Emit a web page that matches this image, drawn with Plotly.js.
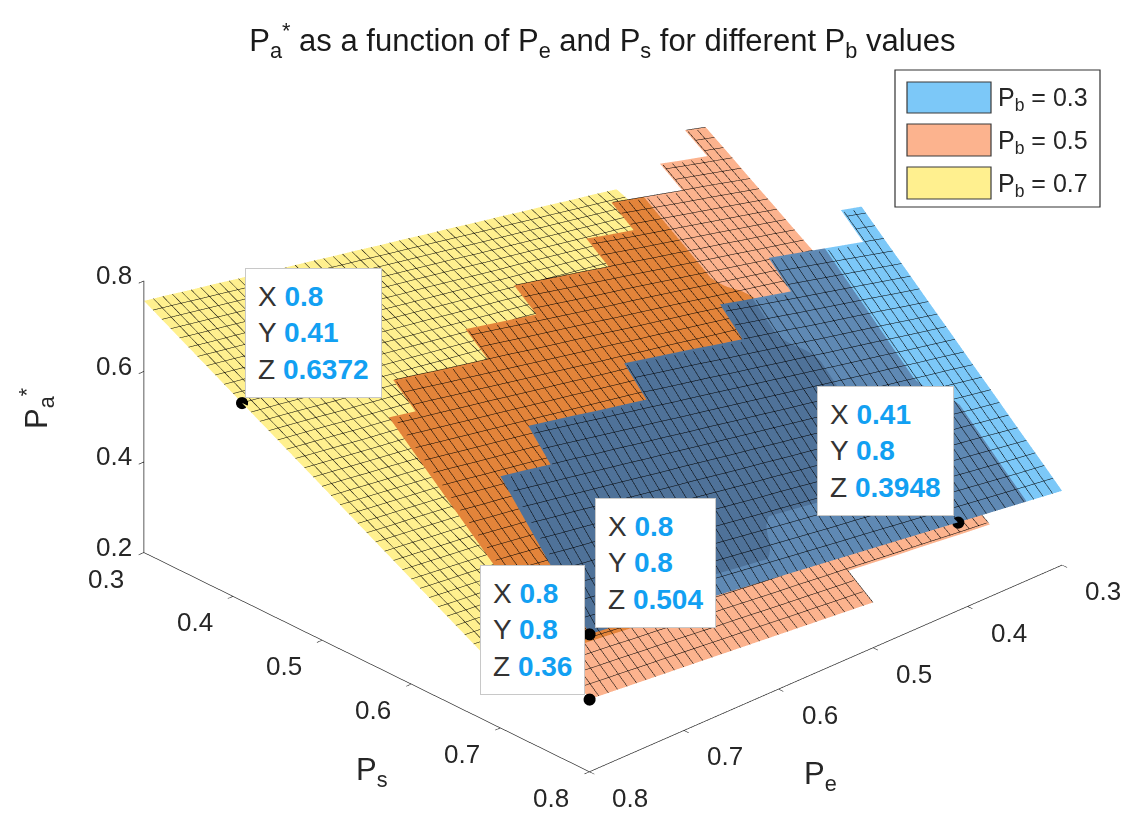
<!DOCTYPE html>
<html>
<head>
<meta charset="utf-8">
<script src="https://cdn.plot.ly/plotly-3.0.1.min.js"></script>
<style>html,body{margin:0;padding:0;background:#fff;}#chart{width:1141px;height:829px;}</style>
</head>
<body>
<div id="chart"></div>
<script>
// ---------- data ----------
const _ = null;
const Pe = [0.3,0.325,0.35,0.375,0.4,0.425,0.45,0.475,0.5,0.525,0.55,0.575,0.6,0.625,0.65,0.675,0.7,0.725,0.75,0.775,0.8];
const Ps = [0.3,0.325,0.35,0.375,0.4,0.425,0.45,0.475,0.5,0.525,0.55,0.575,0.6,0.625,0.65,0.675,0.7,0.725,0.75,0.775,0.8];
const pbValues = [0.3, 0.5, 0.7];
const NULLROW = [_,_,_,_,_,_,_,_,_,_,_,_,_,_,_,_,_,_,_,_,_];

// Pa* for Pb = 0.7 (rows: Ps, columns: Pe)
const zPb07 = [
[0.546,0.557,0.567,0.578,0.588,0.599,0.609,0.620,0.630,0.641,0.651,0.662,0.672,0.683,0.693,0.704,0.714,0.725,0.735,0.746,0.756],
[0.527,0.537,0.547,0.557,0.567,0.577,0.587,0.597,0.608,0.618,0.628,0.638,0.648,0.658,0.668,0.678,0.689,0.699,0.709,0.719,0.729],
[0.507,0.517,0.526,0.536,0.546,0.556,0.566,0.575,0.585,0.595,0.605,0.614,0.624,0.634,0.644,0.653,0.663,0.673,0.683,0.692,0.702],
[0.488,0.497,0.506,0.516,0.525,0.534,0.544,0.553,0.563,0.572,0.581,0.591,0.600,0.609,0.619,0.628,0.638,0.647,0.656,0.666,0.675],
[0.468,0.477,0.486,0.495,0.504,0.513,0.522,0.531,0.540,0.549,0.558,0.567,0.576,0.585,0.594,0.603,0.612,0.621,0.630,0.639,0.648],
[0.449,0.457,0.466,0.474,0.483,0.492,0.500,0.509,0.518,0.526,0.535,0.544,0.552,0.561,0.569,0.578,0.587,0.595,0.604,0.613,0.621],
[0.429,0.437,0.446,0.454,0.462,0.470,0.479,0.487,0.495,0.503,0.512,0.520,0.528,0.536,0.545,0.553,0.561,0.569,0.578,0.586,0.594],
[0.410,0.417,0.425,0.433,0.441,0.449,0.457,0.465,0.473,0.480,0.488,0.496,0.504,0.512,0.520,0.528,0.536,0.543,0.551,0.559,0.567],
[0.390,0.398,0.405,0.413,0.420,0.428,0.435,0.443,0.450,0.458,0.465,0.473,0.480,0.488,0.495,0.503,0.510,0.518,0.525,0.533,0.540],
[0.371,0.378,0.385,0.392,0.399,0.406,0.413,0.421,0.428,0.435,0.442,0.449,0.456,0.463,0.470,0.477,0.485,0.492,0.499,0.506,0.513],
[0.351,0.358,0.365,0.371,0.378,0.385,0.392,0.398,0.405,0.412,0.419,0.425,0.432,0.439,0.446,0.452,0.459,0.466,0.473,0.479,0.486],
[0.332,0.338,0.344,0.351,0.357,0.363,0.370,0.376,0.383,0.389,0.395,0.402,0.408,0.414,0.421,0.427,0.434,0.440,0.446,0.453,0.459],
[0.312,0.318,0.324,0.330,0.336,0.342,0.348,0.354,0.360,0.366,0.372,0.378,0.384,0.390,0.396,0.402,0.408,0.414,0.420,0.426,0.432],
[_,_,0.304,0.309,0.315,0.321,0.326,0.332,0.338,0.343,0.349,0.354,0.360,0.366,0.371,0.377,0.383,0.388,0.394,0.399,0.405],
[_,_,_,_,_,_,0.305,0.310,0.315,0.320,0.326,0.331,0.336,0.341,0.347,0.352,0.357,0.362,0.368,0.373,0.378],
[_,_,_,_,_,_,_,_,_,_,0.302,0.307,0.312,0.317,0.322,0.327,0.332,0.336,0.341,0.346,0.351],
[_,_,_,_,_,_,_,_,_,_,_,_,_,_,_,0.302,0.306,0.311,0.315,0.320,0.324],
NULLROW, NULLROW, NULLROW, NULLROW
];

// Pa* for Pb = 0.5
const zPb05 = [
NULLROW, NULLROW, NULLROW, NULLROW,
[0.780,0.795,_,_,_,_,_,_,_,_,_,_,_,_,_,_,_,_,_,_,_],
[0.748,0.762,0.776,0.791,_,_,_,_,_,_,_,_,_,_,_,_,_,_,_,_,_],
[0.715,0.729,0.743,0.756,0.770,0.784,0.798,_,_,_,_,_,_,_,_,_,_,_,_,_,_],
[0.683,0.696,0.709,0.722,0.735,0.748,0.761,0.774,0.788,_,_,_,_,_,_,_,_,_,_,_,_],
[0.650,0.663,0.675,0.688,0.700,0.713,0.725,0.738,0.750,0.763,0.775,0.788,0.800,_,_,_,_,_,_,_,_],
[0.618,0.629,0.641,0.653,0.665,0.677,0.689,0.701,0.713,0.724,0.736,0.748,0.760,0.772,0.784,0.796,_,_,_,_,_],
[0.585,0.596,0.608,0.619,0.630,0.641,0.653,0.664,0.675,0.686,0.698,0.709,0.720,0.731,0.743,0.754,0.765,0.776,0.788,0.799,_],
[0.553,0.563,0.574,0.584,0.595,0.606,0.616,0.627,0.638,0.648,0.659,0.669,0.680,0.691,0.701,0.712,0.723,0.733,0.744,0.754,0.765],
[0.520,0.530,0.540,0.550,0.560,0.570,0.580,0.590,0.600,0.610,0.620,0.630,0.640,0.650,0.660,0.670,0.680,0.690,0.700,0.710,0.720],
[0.488,0.497,0.506,0.516,0.525,0.534,0.544,0.553,0.563,0.572,0.581,0.591,0.600,0.609,0.619,0.628,0.638,0.647,0.656,0.666,0.675],
[0.455,0.464,0.473,0.481,0.490,0.499,0.508,0.516,0.525,0.534,0.543,0.551,0.560,0.569,0.578,0.586,0.595,0.604,0.613,0.621,0.630],
[0.423,0.431,0.439,0.447,0.455,0.463,0.471,0.479,0.488,0.496,0.504,0.512,0.520,0.528,0.536,0.544,0.553,0.561,0.569,0.577,0.585],
[0.390,0.398,0.405,0.413,0.420,0.428,0.435,0.443,0.450,0.458,0.465,0.473,0.480,0.488,0.495,0.503,0.510,0.518,0.525,0.533,0.540],
[0.358,0.364,0.371,0.378,0.385,0.392,0.399,0.406,0.413,0.419,0.426,0.433,0.440,0.447,0.454,0.461,0.468,0.474,0.481,0.488,0.495],
[0.325,0.331,0.338,0.344,0.350,0.356,0.363,0.369,0.375,0.381,0.388,0.394,0.400,0.406,0.413,0.419,0.425,0.431,0.438,0.444,0.450],
[_,_,0.304,0.309,0.315,0.321,0.326,0.332,0.338,0.343,0.349,0.354,0.360,0.366,0.371,0.377,0.383,0.388,0.394,0.399,0.405],
[_,_,_,_,_,_,_,_,0.300,0.305,0.310,0.315,0.320,0.325,0.330,0.335,0.340,0.345,0.350,0.355,0.360]
];

// Pa* for Pb = 0.3
const zPb03 = [
NULLROW, NULLROW, NULLROW, NULLROW, NULLROW, NULLROW, NULLROW, NULLROW, NULLROW, NULLROW, NULLROW,
[0.774,0.788,_,_,_,_,_,_,_,_,_,_,_,_,_,_,_,_,_,_,_],
[0.728,0.742,0.756,0.770,0.784,0.798,_,_,_,_,_,_,_,_,_,_,_,_,_,_,_],
[0.683,0.696,0.709,0.722,0.735,0.748,0.761,0.774,0.788,_,_,_,_,_,_,_,_,_,_,_,_],
[0.637,0.649,0.662,0.674,0.686,0.698,0.711,0.723,0.735,0.747,0.760,0.772,0.784,0.796,_,_,_,_,_,_,_],
[0.592,0.603,0.614,0.626,0.637,0.648,0.660,0.671,0.683,0.694,0.706,0.717,0.728,0.740,0.751,0.762,0.774,0.785,0.796,_,_],
[0.546,0.557,0.567,0.578,0.588,0.599,0.609,0.620,0.630,0.641,0.651,0.662,0.672,0.683,0.693,0.704,0.714,0.725,0.735,0.746,0.756],
[0.501,0.510,0.520,0.529,0.539,0.549,0.558,0.568,0.578,0.587,0.597,0.606,0.616,0.626,0.635,0.645,0.655,0.664,0.674,0.683,0.693],
[0.455,0.464,0.473,0.481,0.490,0.499,0.508,0.516,0.525,0.534,0.543,0.551,0.560,0.569,0.578,0.586,0.595,0.604,0.613,0.621,0.630],
[0.410,0.417,0.425,0.433,0.441,0.449,0.457,0.465,0.473,0.480,0.488,0.496,0.504,0.512,0.520,0.528,0.536,0.543,0.551,0.559,0.567],
[0.364,0.371,0.378,0.385,0.392,0.399,0.406,0.413,0.420,0.427,0.434,0.441,0.448,0.455,0.462,0.469,0.476,0.483,0.490,0.497,0.504]
];

// data tips
const tipX = [0.8, 0.41, 0.8, 0.8];
const tipY = [0.41, 0.8, 0.8, 0.8];
const tipZ = [0.6372, 0.3948, 0.504, 0.36];

const peTicks = [0.3,0.4,0.5,0.6,0.7,0.8];
const psTicks = [0.3,0.4,0.5,0.6,0.7,0.8];
const zTicks = [0.2,0.4,0.6,0.8];

// ---------- style ----------
const shadeO = [
"000000000000000000000","000000000000000000000","000000000000000000000","000000000000000000000",
"000000000000000000000","000000000000000000000",
"000001111111111111111","000001111111111111111","000001111111111111111","000001111111111111111",
"000011111111111111111","000011111111111111111","000011111111111111111","000011111111111111111",
"000111111111111111111","000111111111111111111",
"000001111111111111111","000000000011111111111","000000000000000111111",
"000000000000000000000","000000000000000000000"
].map(r => r.split('').map(Number));
const shadeB = [
"000000000000000000000","000000000000000000000","000000000000000000000","000000000000000000000",
"000000000000000000000","000000000000000000000","000000000000000000000","000000000000000000000",
"000000000000000000000","000000000000000000000","000000000000000000000","000000000000000000000",
"000111111111111111111",
"000111122222222222222","000111122222222222222",
"000111222222222222222","000111222222222222222",
"001112222222222222222","001111122222222222222",
"001111111111222222222","001111111111111111222"
].map(r => r.split('').map(Number));

const FONT = '"Liberation Sans", Arial, Helvetica, sans-serif';
const INK = '#262626';
const legendColors = ['#7CC8F8', '#FCB38E', '#FFF08F'];
const colY = '#FFF08F';
const colO = ['#FCB38E', '#E3843A'];
const colB = ['#7CC8F8', '#5F89B4', '#4F7299'];
const flat = {ambient: 1, diffuse: 0, specular: 0, roughness: 1, fresnel: 0};
const mesh = {show: true, start: 0.3, end: 0.8001, size: 0.01, color: '#000000', width: 1, highlight: false};
const contours = {x: mesh, y: mesh, z: {show: false, highlight: false}};

const traces = [
  {type: 'surface', x: Pe, y: Ps, z: zPb07, colorscale: [[0, colY], [1, colY]], showscale: false,
   lighting: flat, contours: contours, hoverinfo: 'skip', name: 'P_b = ' + pbValues[2]},
  {type: 'surface', x: Pe, y: Ps, z: zPb05, surfacecolor: shadeO, cmin: 0, cmax: 1,
   colorscale: [[0, colO[0]], [0.5, colO[0]], [0.5, colO[1]], [1, colO[1]]], showscale: false,
   lighting: flat, contours: contours, hoverinfo: 'skip', name: 'P_b = ' + pbValues[1]},
  {type: 'surface', x: Pe, y: Ps, z: zPb03, surfacecolor: shadeB, cmin: 0, cmax: 2,
   colorscale: [[0, colB[0]], [0.25, colB[0]], [0.25, colB[1]], [0.75, colB[1]], [0.75, colB[2]], [1, colB[2]]], showscale: false,
   lighting: flat, contours: contours, hoverinfo: 'skip', name: 'P_b = ' + pbValues[0]},
  {type: 'scatter3d', mode: 'markers', x: tipX, y: tipY, z: tipZ,
   marker: {size: 7, color: '#000'}, hoverinfo: 'skip'}
];

// data tips as scene annotations
const tipStyle = [
  {xanchor: 'left', yanchor: 'bottom', xshift: 3, yshift: 5},
  {xanchor: 'right', yanchor: 'bottom', xshift: -4, yshift: 7},
  {xanchor: 'left', yanchor: 'bottom', xshift: 6, yshift: 6},
  {xanchor: 'right', yanchor: 'bottom', xshift: -4, yshift: 4}
];
const val = v => '<b><span style="color:#12A0F2">' + v + '</span></b>';
const sceneAnns = tipX.map((x, i) => Object.assign({
  x: x, y: tipY[i], z: tipZ[i], showarrow: false,
  text: 'X ' + val(tipX[i]) + '<br>Y ' + val(tipY[i]) + '<br>Z ' + val(tipZ[i]),
  align: 'left', bgcolor: '#ffffff', bordercolor: '#c8c8c8', borderwidth: 1, borderpad: 12,
  font: {family: FONT, size: 28, color: '#333333'}
}, tipStyle[i]));

// horizontal tick labels placed at the axis ticks
const tickFont = {family: FONT, size: 26, color: INK};
psTicks.forEach(t => sceneAnns.push({x: 0.8, y: t, z: 0.2, text: String(t), showarrow: false,
  xanchor: 'center', yanchor: 'middle', xshift: -38, yshift: -26, font: tickFont}));
peTicks.forEach(t => sceneAnns.push({x: t, y: 0.8, z: 0.2, text: String(t), showarrow: false,
  xanchor: 'center', yanchor: 'middle', xshift: 41, yshift: -26, font: tickFont}));
zTicks.forEach(t => sceneAnns.push({x: 0.8, y: 0.3, z: t, text: String(t), showarrow: false,
  xanchor: 'right', yanchor: 'middle', xshift: -10, yshift: 6, font: tickFont}));

const axBase = {
  showbackground: false, showgrid: false, zeroline: false, showline: true,
  linecolor: INK, linewidth: 1.5, ticks: 'outside', ticklen: 7, tickwidth: 1.5,
  tickcolor: INK, showticklabels: false, title: {text: ''},
  showspikes: false, autorange: false
};

const W = 1141, H = 829;
const px = v => v / W, py = v => 1 - v / H;
const legRows = [[82, 113], [124, 156], [167, 199]];
const shapes = [{type: 'rect', xref: 'paper', yref: 'paper', x0: px(895), x1: px(1100), y0: py(207), y1: py(70),
  line: {color: '#333', width: 1.2}, fillcolor: '#fff', layer: 'above'}];
const paperAnns = [];
pbValues.forEach((pb, i) => {
  const r = legRows[i];
  shapes.push({type: 'rect', xref: 'paper', yref: 'paper', x0: px(907), x1: px(991), y0: py(r[1]), y1: py(r[0]),
    line: {color: '#3a3a3a', width: 1.2}, fillcolor: legendColors[i], layer: 'above'});
  paperAnns.push({xref: 'paper', yref: 'paper', x: px(996), y: py((r[0] + r[1]) / 2 + 2), xanchor: 'left', yanchor: 'middle',
    showarrow: false, text: 'P<sub>b</sub> = ' + pb, font: {family: FONT, size: 25, color: INK}});
});
// axis titles
const axTitleFont = {family: FONT, size: 31, color: INK};
paperAnns.push({xref: 'paper', yref: 'paper', x: px(372), y: py(772), showarrow: false, xanchor: 'center', yanchor: 'middle',
  text: 'P<sub>s</sub>', font: axTitleFont});
paperAnns.push({xref: 'paper', yref: 'paper', x: px(820), y: py(776), showarrow: false, xanchor: 'center', yanchor: 'middle',
  text: 'P<sub>e</sub>', font: axTitleFont});
paperAnns.push({xref: 'paper', yref: 'paper', x: px(36), y: py(408), showarrow: false, xanchor: 'center', yanchor: 'middle',
  textangle: -90, text: 'P<sub>a</sub><sup>*</sup>', font: axTitleFont});

const layout = {
  width: W, height: H, margin: {l: 0, r: 0, t: 0, b: 0}, paper_bgcolor: '#fff',
  font: {family: FONT, color: INK},
  title: {text: 'P<sub>a</sub><sup>*</sup> as a function of P<sub>e</sub> and P<sub>s</sub> for different P<sub>b</sub> values',
    x: 0.528, xanchor: 'center', y: 0.951, yanchor: 'middle', font: {family: FONT, size: 31, color: '#1a1a1a'}},
  showlegend: false, hovermode: false,
  scene: {
    domain: {x: [0.057, 1], y: [0, 0.979]},
    aspectmode: 'manual', aspectratio: {x: 1.6, y: 1.6, z: 0.755},
    camera: {eye: {x: 0.7296, y: 0.774, z: 0.557}, up: {x: 0, y: 0, z: 1}, center: {x: 0, y: 0, z: 0},
      projection: {type: 'orthographic'}},
    xaxis: Object.assign({}, axBase, {range: [0.3, 0.8], tickvals: peTicks}),
    yaxis: Object.assign({}, axBase, {range: [0.3, 0.8], tickvals: psTicks}),
    zaxis: Object.assign({}, axBase, {range: [0.2, 0.8], tickvals: zTicks}),
    annotations: sceneAnns
  },
  shapes: shapes,
  annotations: paperAnns
};

Plotly.newPlot('chart', traces, layout, {displayModeBar: false});
</script>
</body>
</html>
